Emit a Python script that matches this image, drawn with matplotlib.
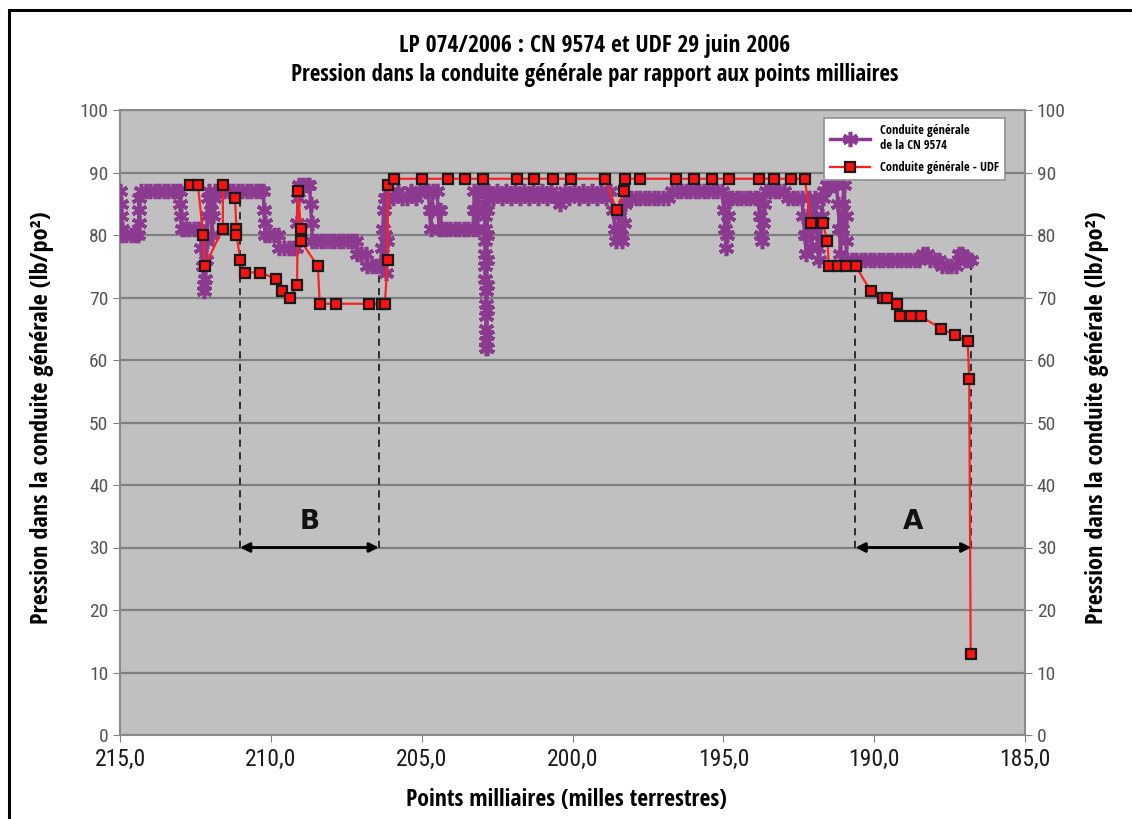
import numpy as np
import matplotlib
matplotlib.use("Agg")
import matplotlib.pyplot as plt
from matplotlib.patches import Rectangle

plt.rcParams['font.family'] = ['Roboto Condensed', 'DejaVu Sans']
BOLD = ['Open Sans Condensed', 'DejaVu Sans']

# Conduite generale - UDF (point milliaire, pression lb/po2)
udf_mile = [212.68, 212.42, 212.24, 212.19, 211.59, 211.59, 211.19, 211.14, 211.14, 211.01,
            210.86, 210.35, 209.84, 209.62, 209.36, 209.13, 209.10, 209.00, 209.00, 208.44,
            208.38, 207.83, 206.76, 206.30, 206.22, 206.13, 206.12, 205.93, 204.98, 204.12,
            203.56, 202.98, 201.83, 201.27, 200.66, 200.06, 198.92, 198.54, 198.28, 198.27,
            197.75, 196.57, 195.98, 195.39, 194.81, 193.82, 193.33, 192.77, 192.30, 192.10,
            191.71, 191.55, 191.50, 191.19, 190.92, 190.61, 190.11, 189.70, 189.57, 189.24,
            189.15, 188.79, 188.46, 187.77, 187.32, 186.90, 186.85, 186.80]
udf_pres = [88, 88, 80, 75, 81, 88, 86, 81, 80, 76,
            74, 74, 73, 71, 70, 72, 87, 81, 79, 75,
            69, 69, 69, 69, 69, 76, 88, 89, 89, 89,
            89, 89, 89, 89, 89, 89, 89, 84, 87, 89,
            89, 89, 89, 89, 89, 89, 89, 89, 89, 82,
            82, 79, 75, 75, 75, 75, 71, 70, 70, 69,
            67, 67, 67, 65, 64, 63, 57, 13]

# Conduite generale de la CN 9574
cn_mile = [
    215.00, 214.98, 214.96, 214.94, 214.92, 214.80, 214.65, 214.50, 214.40, 214.38,
    214.37, 214.36, 214.30, 214.15, 214.00, 213.85, 213.70, 213.55, 213.40, 213.25,
    213.10, 213.02, 213.00, 212.98, 212.96, 212.85, 212.70, 212.55, 212.40,
    212.35, 212.30, 212.25, 212.22, 212.20, 212.18, 212.15, 212.12, 212.10, 212.08,
    212.05, 212.00, 211.96, 211.92, 211.88, 211.85, 211.70, 211.55, 211.40, 211.25,
    211.10, 210.95, 210.80, 210.65, 210.50, 210.35, 210.25, 210.22, 210.20, 210.18,
    210.05, 209.90, 209.76, 209.72, 209.55, 209.40, 209.25, 209.15, 209.12, 209.10,
    209.08, 208.95, 208.80, 208.72, 208.68, 208.65, 208.62, 208.50, 208.35, 208.20,
    208.05, 207.90, 207.75, 207.60, 207.45, 207.30, 207.18, 207.15, 207.00, 206.85,
    206.80, 206.65, 206.50, 206.38, 206.32, 206.29, 206.26, 206.23, 206.20, 206.18,
    206.16, 206.14,
    206.10, 205.95, 205.80, 205.65, 205.50, 205.35, 205.20, 205.05, 204.90, 204.78,
    204.74, 204.70, 204.66, 204.62, 204.50, 204.45, 204.42, 204.38, 204.34, 204.20,
    204.05, 203.90, 203.75, 203.60, 203.45, 203.30, 203.27, 203.25, 203.20, 203.17,
    203.14, 203.10, 203.00, 202.92, 202.915, 202.91, 202.905, 202.90, 202.895, 202.89,
    202.885, 202.88, 202.875, 202.87, 202.865, 202.86, 202.855, 202.85, 202.85, 202.845,
    202.84, 202.835, 202.83, 202.825, 202.82, 202.81, 202.80,
    202.65, 202.50, 202.35, 202.20, 202.05, 201.90, 201.75, 201.60, 201.45, 201.30,
    201.15, 201.00, 200.85, 200.70, 200.55, 200.45, 200.42, 200.38, 200.25, 200.10,
    199.95, 199.80, 199.65, 199.50, 199.35, 199.20, 199.05, 198.90, 198.75,
    198.65, 198.60, 198.55, 198.50, 198.45, 198.40, 198.35, 198.30, 198.25, 198.20,
    198.05, 197.90, 197.75, 197.60, 197.45, 197.30, 197.15, 197.00, 196.85, 196.70,
    196.55, 196.40, 196.25, 196.10, 195.95, 195.80, 195.65, 195.50, 195.35, 195.20,
    195.05, 194.98, 194.95, 194.92, 194.88, 194.85, 194.82, 194.70, 194.55, 194.40,
    194.25, 194.10, 193.95, 193.85, 193.80, 193.76, 193.72, 193.68, 193.64, 193.60,
    193.45, 193.30, 193.15, 193.00, 192.85, 192.70, 192.55, 192.40, 192.35, 192.30,
    192.25, 192.22, 192.18, 192.15, 192.12, 192.08, 192.05, 192.00, 191.95, 191.90,
    191.86, 191.82, 191.78, 191.74, 191.70, 191.65, 191.55, 191.45, 191.35, 191.25,
    191.20, 191.15, 191.12, 191.08, 191.04, 191.00, 190.95, 190.92, 190.90,
    190.75, 190.60, 190.45, 190.30, 190.15, 190.00, 189.85, 189.70, 189.55, 189.40,
    189.25, 189.10, 188.95, 188.80, 188.65, 188.50, 188.38, 188.25, 188.15, 188.00,
    187.85, 187.75, 187.60, 187.45, 187.30, 187.20, 187.10, 187.00, 186.90, 186.78]
cn_pres = [
    87, 85, 83, 81, 80, 80, 80, 80, 80, 82,
    84, 86, 87, 87, 87, 87, 87, 87, 87, 87,
    87, 87, 85, 83, 81, 81, 81, 81, 81,
    81, 78, 75, 72, 71, 73, 76, 79, 83, 86,
    87, 84, 80, 83, 86, 87, 87, 87, 87, 87,
    87, 87, 87, 87, 87, 87, 87, 84, 82, 80,
    80, 80, 80, 78, 78, 78, 78, 78, 82, 86,
    88, 88, 88, 88, 85, 82, 79, 79, 79, 79,
    79, 79, 79, 79, 79, 79, 79, 77, 77, 77,
    75, 75, 75, 75, 78, 81, 84, 86, 80, 74,
    79, 86,
    86, 86, 87, 86, 86, 87, 86, 87, 87, 87,
    84, 81, 84, 87, 87, 84, 81, 84, 81, 81,
    81, 81, 81, 81, 81, 81, 84, 87, 84, 81,
    84, 87, 87, 87, 85, 83, 81, 79, 77, 75,
    73, 71, 69, 67, 65, 63, 62, 62, 64, 68,
    72, 76, 80, 84, 87, 86, 87,
    86, 87, 86, 87, 86, 87, 86, 87, 86, 87,
    86, 87, 86, 87, 86, 86, 85, 86, 87, 86,
    87, 86, 87, 86, 87, 86, 87, 86, 87,
    84, 81, 79, 80, 83, 80, 79, 82, 85, 86,
    86, 86, 86, 86, 86, 86, 86, 86, 86, 87,
    87, 87, 87, 87, 87, 87, 87, 87, 87, 87,
    87, 84, 81, 78, 80, 83, 86, 86, 86, 86,
    86, 86, 86, 86, 83, 80, 79, 82, 85, 87,
    87, 87, 87, 87, 86, 86, 86, 86, 83, 80,
    77, 80, 83, 86, 82, 78, 81, 85, 86, 82,
    78, 76, 79, 83, 86, 87, 88, 88, 88, 88,
    85, 81, 77, 81, 85, 88, 83, 79, 76,
    76, 76, 76, 76, 76, 76, 76, 76, 76, 76,
    76, 76, 76, 76, 76, 76, 77, 77, 76, 76,
    76, 75, 75, 75, 75, 77, 77, 76, 76, 76]

# zones A et B (bornes en points milliaires)
zone_names = ['B', 'A']
zone_start = [211.02, 190.62]
zone_end = [206.42, 186.78]
zone_top_start = [86, 75]
zone_top_end = [75, 76]
arrow_level = 30

purple = '#8B3A8F'

fig = plt.figure(figsize=(11.32, 8.19), dpi=100)
fig.patches.append(Rectangle((9 / 1132, -0.05), 1.2, 1 - 10 / 819 + 0.05,
                             transform=fig.transFigure, fill=False,
                             edgecolor='black', linewidth=2.2))

ax = fig.add_axes([120 / 1132, 1 - 735 / 819, 905 / 1132, 625 / 819])
ax.set_facecolor('#C0C0C0')
ax.set_xlim(215, 185)
ax.set_ylim(0, 100)
ax.set_yticks(np.arange(0, 101, 10))
ax.set_xticks(np.arange(215, 184, -5))
ax.set_xticklabels(['%d,0' % v for v in range(215, 184, -5)])
ax.grid(axis='y', color='#808080', linewidth=1.6)
ax.set_axisbelow(True)
for s in ax.spines.values():
    s.set_color('#8A8A8A')
    s.set_linewidth(1.5)
ax.tick_params(axis='y', colors='#808080', labelcolor='#555555', labelsize=14, length=5)
ax.tick_params(axis='x', colors='#808080', labelcolor='#1A1A1A', labelsize=17, length=5, pad=4)

ax.plot(cn_mile, cn_pres, color=purple, linewidth=2.5, marker=(6, 2, 0),
        markersize=11, markeredgewidth=2.6, markeredgecolor=purple,
        label='Conduite générale\nde la CN 9574', zorder=3)
ax.plot(udf_mile, udf_pres, color='#FF2020', linewidth=1.6, marker='s',
        markersize=7.5, markerfacecolor='#FF1010', markeredgecolor='#1A1A1A',
        markeredgewidth=1.6, label='Conduite générale - UDF', zorder=4)

for name, x0, x1, t0, t1 in zip(zone_names, zone_start, zone_end, zone_top_start, zone_top_end):
    ax.plot([x0, x0], [arrow_level, t0], color='#222222', linestyle=(0, (4, 3)), linewidth=1.3, zorder=2)
    ax.plot([x1, x1], [arrow_level, t1], color='#222222', linestyle=(0, (4, 3)), linewidth=1.3, zorder=2)
    ax.annotate('', xy=(x1, arrow_level), xytext=(x0, arrow_level),
                arrowprops=dict(arrowstyle='<|-|>', color='black', lw=2, mutation_scale=14,
                                shrinkA=0, shrinkB=0), zorder=5)
    ax.text((x0 + x1) / 2, arrow_level + 2, name, ha='center', va='bottom',
            fontsize=19, fontweight='bold', family=['DejaVu Sans'], color='#111111')

ax2 = ax.twinx()
ax2.set_ylim(0, 100)
ax2.set_yticks(np.arange(0, 101, 10))
ax2.tick_params(axis='y', colors='#808080', labelcolor='#555555', labelsize=14, length=5)
for s in ax2.spines.values():
    s.set_visible(False)

ylab = 'Pression dans la conduite générale (lb/po²)'
fig.text(42 / 1132, 1 - 418 / 819, ylab, rotation=90, ha='center', va='center',
         fontsize=17.5, fontweight='bold', family=BOLD)
fig.text(1097 / 1132, 1 - 418 / 819, ylab, rotation=90, ha='center', va='center',
         fontsize=17.5, fontweight='bold', family=BOLD)
fig.text(0.5, 1 - 800 / 819, 'Points milliaires (milles terrestres)', ha='center', va='center',
         fontsize=17, fontweight='bold', family=BOLD)
fig.text(0.525, 1 - 46 / 819, 'LP 074/2006 : CN 9574 et UDF 29 juin 2006', ha='center', va='center',
         fontsize=17, fontweight='bold', family=BOLD)
fig.text(0.525, 1 - 75 / 819, 'Pression dans la conduite générale par rapport aux points milliaires',
         ha='center', va='center', fontsize=16.5, fontweight='bold', family=BOLD)

leg = ax.legend(loc='upper right', bbox_to_anchor=(0.985, 0.997),
                prop={'weight': 'bold', 'size': 9, 'family': BOLD}, fancybox=False, framealpha=1,
                edgecolor='#909090', handlelength=3.2, borderpad=0.5, labelspacing=0.7)
leg.get_frame().set_linewidth(1.2)

fig.savefig('out.png', dpi=100)
